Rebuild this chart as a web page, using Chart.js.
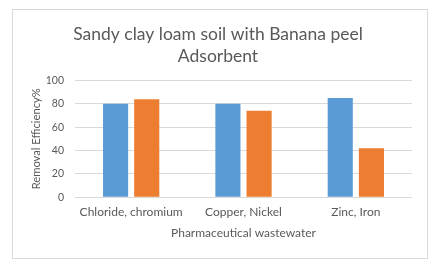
<!DOCTYPE html>
<html>
<head>
<meta charset="utf-8">
<script src="https://cdn.jsdelivr.net/npm/chart.js@4"></script>
<style>
  html, body { margin: 0; padding: 0; background: #fff; }
  #wrap { width: 442px; height: 267px; position: relative; }
</style>
</head>
<body>
<div id="wrap"><canvas id="chart" width="442" height="267"></canvas></div>
<script>
// data
const categories = ['Chloride, chromium', 'Copper, Nickel', 'Zinc, Iron'];
const seriesA = [80, 80, 85];
const seriesB = [84, 74, 42];
const yTicks = [0, 20, 40, 60, 80, 100];

const FONT = 'Lato, "Open Sans", sans-serif';
const GREY = '#595959';

// light border round the whole chart, like the spreadsheet frame
const frame = {
  id: 'frame',
  beforeDraw(chart) {
    const ctx = chart.ctx;
    ctx.save();
    ctx.fillStyle = '#fff';
    ctx.fillRect(0, 0, chart.width, chart.height);
    ctx.strokeStyle = '#d9d9d9';
    ctx.lineWidth = 1;
    ctx.strokeRect(12.5, 9.5, 415, 249);
    ctx.restore();
  }
};

new Chart(document.getElementById('chart'), {
  type: 'bar',
  data: {
    labels: categories,
    datasets: [
      { data: seriesA, backgroundColor: '#5b9bd5', barPercentage: 0.806, categoryPercentage: 0.555 },
      { data: seriesB, backgroundColor: '#ed7d31', barPercentage: 0.806, categoryPercentage: 0.555 }
    ]
  },
  options: {
    responsive: false,
    animation: false,
    layout: { padding: { left: 24, right: 30, top: 23, bottom: 27 } },
    plugins: {
      legend: { display: false },
      tooltip: { enabled: false },
      title: {
        display: true,
        text: ['Sandy clay loam soil with Banana peel', 'Adsorbent'],
        color: GREY,
        font: { family: FONT, size: 17.5, weight: 'normal', lineHeight: 1.27 },
        padding: { top: 0, bottom: 13 }
      }
    },
    scales: {
      x: {
        grid: { display: false, drawTicks: false },
        border: { display: false },
        ticks: { color: GREY, font: { family: FONT, size: 12 }, padding: 8, maxRotation: 0, minRotation: 0, autoSkip: false },
        title: {
          display: true,
          text: 'Pharmaceutical wastewater',
          color: GREY,
          font: { family: FONT, size: 12 },
          padding: { top: -2, bottom: 0 }
        }
      },
      y: {
        min: 0,
        max: 100,
        afterBuildTicks(axis) { axis.ticks = yTicks.map(v => ({ value: v })); },
        afterFit(axis) { axis.width = 51; },
        grid: { color: '#d9d9d9', drawTicks: false },
        border: { display: false },
        ticks: { color: GREY, font: { family: FONT, size: 10.5 }, padding: 11 },
        title: {
          display: true,
          text: 'Removal Efficiency%',
          color: GREY,
          font: { family: FONT, size: 11.2 },
          padding: { top: 6, bottom: 0 }
        }
      }
    }
  },
  plugins: [frame]
});
</script>
</body>
</html>
